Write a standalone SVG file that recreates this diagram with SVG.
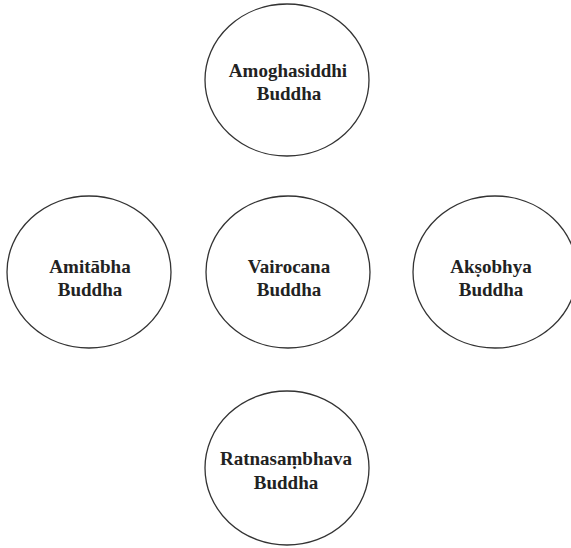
<svg xmlns="http://www.w3.org/2000/svg" width="571" height="548" viewBox="0 0 571 548">
<style>
.n{fill:#fff;stroke:#333;stroke-width:1.3}
.t{font-family:"Liberation Serif","Times New Roman",serif;font-weight:bold;font-size:19px;fill:#222;text-anchor:middle}
</style>
<rect width="571" height="548" fill="#fff"/>
<g id="connectors"/>
<g id="amoghasiddhi"><ellipse class="n" cx="287" cy="80" rx="82" ry="76"/><text class="t" x="288" y="77">Amoghasiddhi</text><text class="t" x="289" y="100">Buddha</text></g>
<g id="amitabha"><ellipse class="n" cx="89" cy="272" rx="82" ry="76"/><text class="t" x="90" y="273">Amitābha</text><text class="t" x="90" y="296">Buddha</text></g>
<g id="vairocana"><ellipse class="n" cx="288" cy="272" rx="82" ry="76"/><text class="t" x="289" y="273">Vairocana</text><text class="t" x="289" y="296">Buddha</text></g>
<g id="akshobhya"><ellipse class="n" cx="495" cy="272" rx="82" ry="76"/><text class="t" x="491" y="273">Akṣobhya</text><text class="t" x="491" y="296">Buddha</text></g>
<g id="ratnasambhava"><ellipse class="n" cx="287" cy="468" rx="82" ry="77"/><text class="t" x="286" y="465">Ratnasaṃbhava</text><text class="t" x="286" y="489">Buddha</text></g>
</svg>
